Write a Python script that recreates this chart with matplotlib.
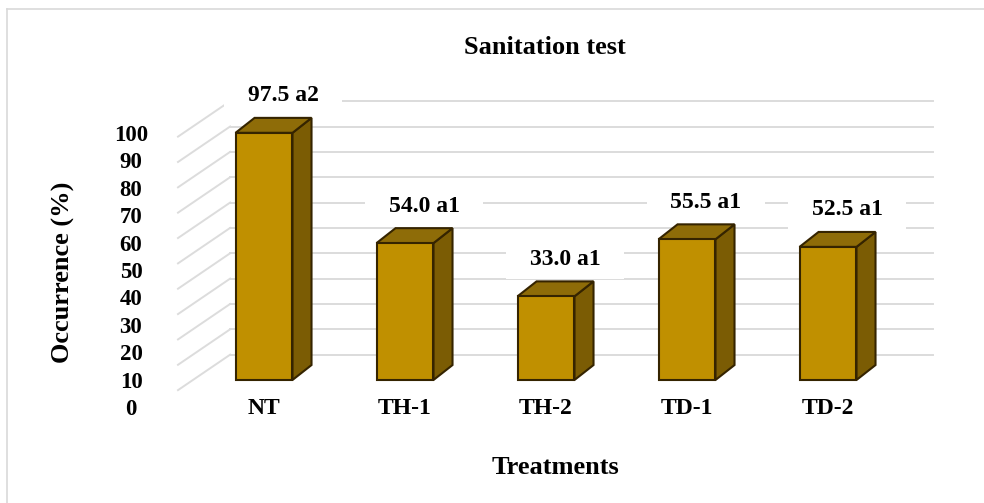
import matplotlib
matplotlib.use("Agg")
import matplotlib.pyplot as plt
from matplotlib.patches import Polygon, Rectangle
from matplotlib.lines import Line2D

# data
categories = ["NT", "TH-1", "TH-2", "TD-1", "TD-2"]
occurrence = [97.5, 54.0, 33.0, 55.5, 52.5]
groups = ["a2", "a1", "a1", "a1", "a1"]
y_ticks = [0, 10, 20, 30, 40, 50, 60, 70, 80, 90, 100]

plt.rcParams["font.family"] = ["Liberation Serif", "DejaVu Serif"]
plt.rcParams["font.weight"] = "bold"

W, H = 984, 503
fig = plt.figure(figsize=(W / 100, H / 100), dpi=100)

# pixel layout of the chart (first bar centre, bar spacing, baseline, px per %)
x0_px, step_px = 264, 141
y0_px, unit_px = 380, 2.535


def px_box(l, t, r, b):
    return [l / W, 1 - b / H, (r - l) / W, (b - t) / H]


L, T, R, B = 150, 60, 960, 395
ax = fig.add_axes(px_box(L, T, R, B))
ax.set_xlim((L - x0_px) / step_px, (R - x0_px) / step_px)
ax.set_ylim((y0_px - B) / unit_px, (y0_px - T) / unit_px)
ax.patch.set_visible(False)
for s in ax.spines.values():
    s.set_visible(False)
ax.set_yticks([])
ax.set_xticks(range(len(categories)), categories, fontsize=17, fontweight="bold")
ax.tick_params(axis="x", length=0, pad=2)

# fake 3d geometry
bar_w, bar_dx, bar_dy = 0.404, 0.135, 5.9
wall_front, wall_back, wall_right = -0.61, -0.24, 4.745
wall_dy, wall_drop = 10, -4
grid_c = "#dcdcdc"

for t in y_ticks:
    ax.add_line(Line2D([wall_front, wall_back], [t + wall_drop, t + wall_dy],
                       color=grid_c, lw=1.4, zorder=1))
    ax.add_line(Line2D([wall_back, wall_right], [t + wall_dy, t + wall_dy],
                       color=grid_c, lw=1.4, zorder=1))

front_c, top_c, side_c, edge_c = "#c09000", "#8e6c08", "#7b5c04", "#352400"
for i, v in enumerate(occurrence):
    xl, xr = i - bar_w / 2, i + bar_w / 2
    side = Polygon([(xr, 0), (xr + bar_dx, bar_dy), (xr + bar_dx, v + bar_dy), (xr, v)],
                   closed=True, fc=side_c, ec=edge_c, lw=1.5, zorder=3)
    top = Polygon([(xl, v), (xr, v), (xr + bar_dx, v + bar_dy), (xl + bar_dx, v + bar_dy)],
                  closed=True, fc=top_c, ec=edge_c, lw=1.5, zorder=3)
    front = Rectangle((xl, 0), bar_w, v, fc=front_c, ec=edge_c, lw=1.5, zorder=4)
    ax.add_patch(side)
    ax.add_patch(top)
    ax.add_patch(front)
    ax.text(i + 0.135, v + 14.6, f"{v:.1f} {groups[i]}", ha="center", va="center",
            fontsize=17, fontweight="bold", zorder=6,
            bbox=dict(boxstyle="square,pad=1.0", mutation_aspect=0.4,
                      fc="white", ec="none"))

# y tick labels sit on their own scale in the picture
ax2 = fig.add_axes(px_box(131, 133, 132, 407))
ax2.set_ylim(0, 100)
ax2.patch.set_visible(False)
for s in ax2.spines.values():
    s.set_visible(False)
ax2.set_xticks([])
ax2.set_yticks(y_ticks, [str(t) for t in y_ticks], fontsize=16.5, fontweight="bold")
ax2.tick_params(axis="y", length=0, pad=0)
for lbl in ax2.get_yticklabels():
    lbl.set_ha("center")

fig.text(545 / W, 1 - 48 / H, "Sanitation test", ha="center", va="center",
         fontsize=19, fontweight="bold")
fig.text(555 / W, 1 - 467 / H, "Treatments", ha="center", va="center",
         fontsize=19, fontweight="bold")
fig.text(63 / W, 1 - 272 / H, "Occurrence (%)", ha="center", va="center",
         rotation=90, fontsize=19, fontweight="bold")

# chart area border (only top and left visible in the crop)
fig.add_artist(Line2D([7 / W, 1], [1 - 9 / H, 1 - 9 / H], transform=fig.transFigure,
                      color="#d9d9d9", lw=1.2))
fig.add_artist(Line2D([7 / W, 7 / W], [0, 1 - 9 / H], transform=fig.transFigure,
                      color="#d9d9d9", lw=1.2))

fig.savefig("out.png", dpi=100)
